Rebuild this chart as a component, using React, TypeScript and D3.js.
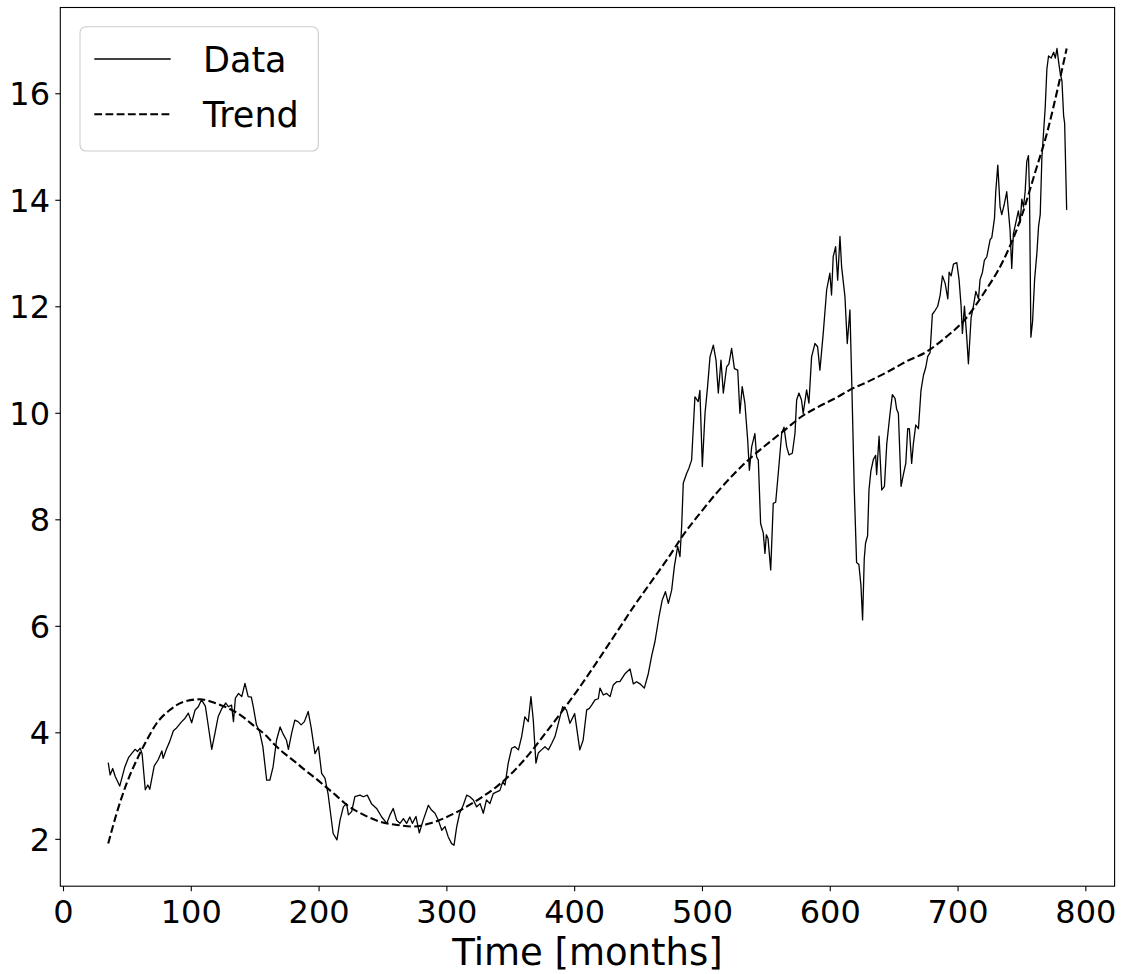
import React from "react";
import * as d3 from "d3";

const dataMonths = [
  35, 36.5, 38.5, 40.5, 44, 48, 51, 53, 56, 58, 60, 61.5, 64, 66, 67.5, 71, 74, 77, 78, 80.5,
  83, 86, 88, 92.5, 95, 97.7, 100.3, 103, 105.5, 108, 111, 113, 116, 118.5, 121, 124, 127, 129, 131.5, 133,
  134.5, 137, 139.5, 142, 144.5, 147, 148.5, 151, 153.5, 156, 159, 161.5, 164, 166.7, 169.5, 172, 174.5, 176, 178.5, 181,
  183.5, 186, 188.5, 191.5, 193.7, 196.8, 199.5, 202, 204.6, 207, 211, 214, 216.4, 219, 221.5, 223, 225.5, 228, 232, 234.6,
  237.7, 241, 245, 249, 253, 255.5, 258, 260.7, 263.3, 266, 268.5, 271, 273, 275.8, 278.4, 281.5, 285.5, 288, 290.7, 293.3,
  296, 298.5, 301, 303.7, 305.6, 307.7, 310, 312.8, 315.5, 318, 320.7, 323.3, 326, 328.5, 331, 333.7, 336.3, 339, 341.5, 343.7,
  345.5, 348, 350.7, 353.3, 356, 358.5, 361, 363.7, 365.8, 367.6, 369.7, 371.5, 374, 376.8, 379.4, 382, 384.6, 388.5, 390.6, 393.6,
  396.3, 400, 404, 406.6, 409.4, 411.5, 413.3, 415.9, 418.5, 419.8, 422.4, 425, 427.7, 430.2, 432.9, 435.4, 439.4, 443.3, 445.9, 448.5,
  451.1, 454.5, 457.6, 460.3, 462.8, 466, 468.5, 471, 473.3, 475.9, 478, 480.6, 482.4, 483.7, 485, 487.6, 489.4, 491.5, 494.1, 496.7,
  498, 499.9, 502, 504, 505.9, 508.5, 510.6, 512.4, 514.5, 516.3, 518.9, 520.7, 522.8, 525, 527.6, 529.3, 531.1, 533.2, 535.4, 536.7,
  538.5, 541, 542.4, 543.7, 545.5, 547.6, 548.9, 550, 551.3, 553.4, 555.4, 557.3, 559.3, 562, 563.8, 565.9, 567.7, 570.3, 572.4, 573.7,
  575.5, 577.5, 578.8, 581.5, 583.3, 585.4, 588, 590.1, 591.9, 594.5, 597.2, 599.7, 601, 602.3, 604.2, 605.8, 607.6, 608.9, 611.5, 613.3,
  615.4, 616.7, 618.8, 620.6, 622.4, 624, 625.3, 626.6, 627.6, 629.2, 630.3, 631.8, 633.7, 635.5, 636.3, 638.2, 640.3, 642.4, 644.2, 646.8,
  648.6, 650.7, 652, 653.3, 655.4, 657.2, 659.1, 660.6, 661.9, 663.7, 665, 666.9, 669, 671, 672.9, 674.7, 676.3, 678.1, 679.9, 682,
  684.1, 686, 687.8, 689.9, 692, 693, 694.6, 696.4, 699, 700.8, 702.4, 703.4, 705, 706.8, 708.1, 710.2, 712, 713.9, 716, 717.2,
  719.1, 720.6, 722.5, 725.1, 726.4, 728.5, 729.5, 731.1, 732.9, 734.2, 736.3, 738.1, 739.4, 740.7, 742, 743.3, 745.2, 747.2, 748.6, 749.9,
  751.2, 752.5, 753.8, 755.1, 755.9, 757, 758.3, 759.9, 761.7, 763, 764.3, 765.6, 767.2, 768.2, 769.5, 770.8, 772.9, 774.8, 776.1, 777.4,
  778.7, 780, 781.3, 782.6, 783.4, 785,
];

const dataValues = [
  3.44, 3.21, 3.33, 3.18, 3.0, 3.36, 3.54, 3.6, 3.69, 3.65, 3.71, 3.61, 2.93, 3.02, 2.94, 3.38, 3.49, 3.66, 3.52, 3.69,
  3.83, 4.04, 4.08, 4.21, 4.27, 4.37, 4.19, 4.43, 4.49, 4.62, 4.5, 4.18, 3.69, 3.99, 4.3, 4.46, 4.56, 4.49, 4.52, 4.21,
  4.65, 4.74, 4.68, 4.93, 4.68, 4.67, 4.49, 4.15, 4.02, 3.74, 3.11, 3.11, 3.36, 3.86, 4.11, 3.97, 3.86, 3.69, 3.99, 4.24,
  4.21, 4.15, 4.21, 4.4, 4.11, 3.61, 3.74, 3.24, 3.15, 2.86, 2.11, 1.99, 2.36, 2.61, 2.67, 2.46, 2.52, 2.8, 2.83, 2.8,
  2.83, 2.67, 2.58, 2.42, 2.3, 2.46, 2.58, 2.36, 2.3, 2.39, 2.3, 2.42, 2.3, 2.43, 2.12, 2.36, 2.64, 2.55, 2.49, 2.36,
  2.17, 2.24, 2.05, 1.92, 1.89, 2.24, 2.49, 2.64, 2.83, 2.8, 2.74, 2.61, 2.67, 2.49, 2.74, 2.67, 2.86, 2.89, 2.92, 3.08,
  3.02, 3.43, 3.71, 3.74, 3.68, 3.93, 4.3, 4.21, 4.68, 4.24, 3.43, 3.62, 3.68, 3.74, 3.68, 3.8, 3.93, 4.3, 4.49, 4.43,
  4.18, 4.36, 3.68, 3.86, 4.43, 4.46, 4.52, 4.62, 4.64, 4.84, 4.71, 4.74, 4.68, 4.9, 4.96, 4.96, 5.11, 5.2, 4.92, 4.96,
  4.92, 4.84, 5.11, 5.45, 5.71, 6.18, 6.49, 6.65, 6.43, 6.68, 7.12, 7.5, 7.31, 7.87, 8.69, 8.87, 8.97, 9.12, 10.31, 10.22,
  10.43, 9.0, 10.0, 10.5, 11.06, 11.28, 11.0, 10.38, 11.0, 10.38, 10.87, 10.93, 11.22, 10.84, 10.81, 10.0, 10.5, 10.19, 9.49, 8.93,
  9.37, 9.62, 9.18, 9.12, 7.93, 7.75, 7.37, 7.72, 7.65, 7.06, 8.31, 8.33, 8.87, 9.62, 9.74, 9.37, 9.22, 9.25, 9.62, 10.25,
  10.38, 10.25, 10.0, 10.44, 10.19, 11.06, 11.31, 11.25, 10.81, 11.5, 12.32, 12.63, 12.22, 12.94, 13.13, 12.5, 13.32, 12.75, 12.19, 11.31,
  11.94, 10.71, 8.56, 7.2, 7.16, 6.77, 6.12, 7.27, 7.56, 7.7, 8.56, 8.92, 9.13, 9.21, 8.85, 9.57, 8.56, 8.63, 9.42, 10.0,
  10.35, 10.28, 10.07, 10.0, 8.63, 8.85, 9.06, 9.71, 9.71, 9.06, 9.42, 9.78, 9.71, 10.43, 10.71, 10.86, 11.07, 11.14, 11.86, 11.93,
  12.01, 12.22, 12.58, 12.44, 12.15, 12.65, 12.58, 12.8, 12.83, 12.51, 12.01, 11.5, 12.01, 11.43, 10.93, 11.79, 12.01, 12.29, 12.15, 12.51,
  12.65, 12.87, 12.94, 13.26, 13.3, 13.66, 14.16, 14.66, 13.87, 13.73, 13.94, 14.16, 13.8, 13.44, 12.72, 13.37, 13.58, 13.8, 13.58, 14.02,
  13.87, 14.16, 14.73, 14.84, 14.16, 11.43, 11.72, 12.51, 13.01, 13.51, 13.73, 14.8, 15.38, 15.74, 16.46, 16.71, 16.67, 16.78, 16.67, 16.85,
  16.6, 16.38, 16.24, 15.59, 15.45, 13.82,
];

const trendMonths = [
  35, 41.6, 49.4, 57.3, 65.1, 72.9, 83.3, 93.7, 106.8, 118.5, 126.4, 134, 142, 150, 158, 165.5, 173, 181, 189, 197,
  205, 213, 222, 235, 248, 261, 274, 287, 300, 313, 326, 339, 352, 365, 378, 391, 404, 421, 434, 447,
  460, 473, 486, 499, 512, 525, 538.5, 551.5, 564.6, 577.6, 590.6, 603.7, 615.4, 630, 645, 660, 675, 690, 705, 720,
  735, 750, 760, 770, 778, 785,
];

const trendValues = [
  1.92, 2.49, 3.05, 3.49, 3.86, 4.18, 4.43, 4.58, 4.63, 4.56, 4.49, 4.4, 4.27, 4.11, 3.96, 3.77, 3.61, 3.46, 3.3, 3.15,
  2.99, 2.83, 2.64, 2.46, 2.33, 2.27, 2.24, 2.3, 2.42, 2.58, 2.77, 2.99, 3.27, 3.62, 4.02, 4.43, 4.86, 5.46, 5.93, 6.4,
  6.84, 7.28, 7.75, 8.15, 8.53, 8.87, 9.18, 9.44, 9.69, 9.94, 10.12, 10.28, 10.44, 10.6, 10.78, 10.98, 11.15, 11.42, 11.75, 12.25,
  12.85, 13.72, 14.5, 15.3, 16.1, 16.85,
];

const xTicks = [0, 100, 200, 300, 400, 500, 600, 700, 800];
const yTicks = [2, 4, 6, 8, 10, 12, 14, 16];
const xLabel = "Time [months]";
const legendLabels = ["Data", "Trend"];

const FONT = "'DejaVu Sans', sans-serif";

export default function App() {
  const W = 1124;
  const H = 974;
  const left = 60.3;
  const right = 1114.6;
  const top = 7.5;
  const bottom = 886.2;

  const x = d3.scaleLinear().domain([-2.5, 822.5]).range([left, right]);
  const y = d3.scaleLinear().domain([1.12, 17.62]).range([bottom, top]);

  const dataPts: [number, number][] = dataMonths.map((m, i) => [m, dataValues[i]]);
  const trendPts: [number, number][] = trendMonths.map((m, i) => [m, trendValues[i]]);

  const dataLine = d3
    .line<[number, number]>()
    .x((d) => x(d[0]))
    .y((d) => y(d[1]));
  const trendLine = d3
    .line<[number, number]>()
    .x((d) => x(d[0]))
    .y((d) => y(d[1]))
    .curve(d3.curveMonotoneX);

  const tickLen = 5;

  return (
    <svg
      width={W}
      height={H}
      style={{ position: "absolute", left: 0, top: 0, display: "block", background: "#fff" }}
      fontFamily={FONT}
    >
      <rect x={0} y={0} width={W} height={H} fill="#fff" />
      <defs>
        <clipPath id="plotclip">
          <rect x={left} y={top} width={right - left} height={bottom - top} />
        </clipPath>
      </defs>
      <g clipPath="url(#plotclip)">
        <path d={dataLine(dataPts) || ""} fill="none" stroke="#000" strokeWidth={1.3} strokeLinejoin="round" />
        <path
          d={trendLine(trendPts) || ""}
          fill="none"
          stroke="#000"
          strokeWidth={2.1}
          strokeDasharray="7.8,3.4"
        />
      </g>
      <rect x={left} y={top} width={right - left} height={bottom - top} fill="none" stroke="#000" strokeWidth={1.1} />
      {xTicks.map((t) => (
        <g key={"x" + t}>
          <line x1={x(t)} x2={x(t)} y1={bottom} y2={bottom + tickLen} stroke="#000" strokeWidth={1.1} />
          <text x={x(t)} y={923} textAnchor="middle" fontSize={32} fill="#000">
            {t}
          </text>
        </g>
      ))}
      {yTicks.map((t) => (
        <g key={"y" + t}>
          <line x1={left - tickLen} x2={left} y1={y(t)} y2={y(t)} stroke="#000" strokeWidth={1.1} />
          <text x={50} y={y(t)} dy="0.36em" textAnchor="end" fontSize={32} fill="#000">
            {t}
          </text>
        </g>
      ))}
      <text x={(left + right) / 2} y={965} textAnchor="middle" fontSize={37} fill="#000">
        {xLabel}
      </text>
      <g>
        <rect x={80} y={26.7} width={238.3} height={124.3} rx={6} ry={6} fill="#fff" fillOpacity={0.8} stroke="#ccc" strokeWidth={1.1} />
        <line x1={94.3} x2={170.7} y1={59} y2={59} stroke="#000" strokeWidth={1.3} />
        <line x1={94.3} x2={170.7} y1={114.3} y2={114.3} stroke="#000" strokeWidth={2.1} strokeDasharray="7.8,3.4" />
        <text x={203} y={59} dy="0.36em" fontSize={35} fill="#000">
          {legendLabels[0]}
        </text>
        <text x={203} y={114.3} dy="0.36em" fontSize={35} fill="#000">
          {legendLabels[1]}
        </text>
      </g>
    </svg>
  );
}
